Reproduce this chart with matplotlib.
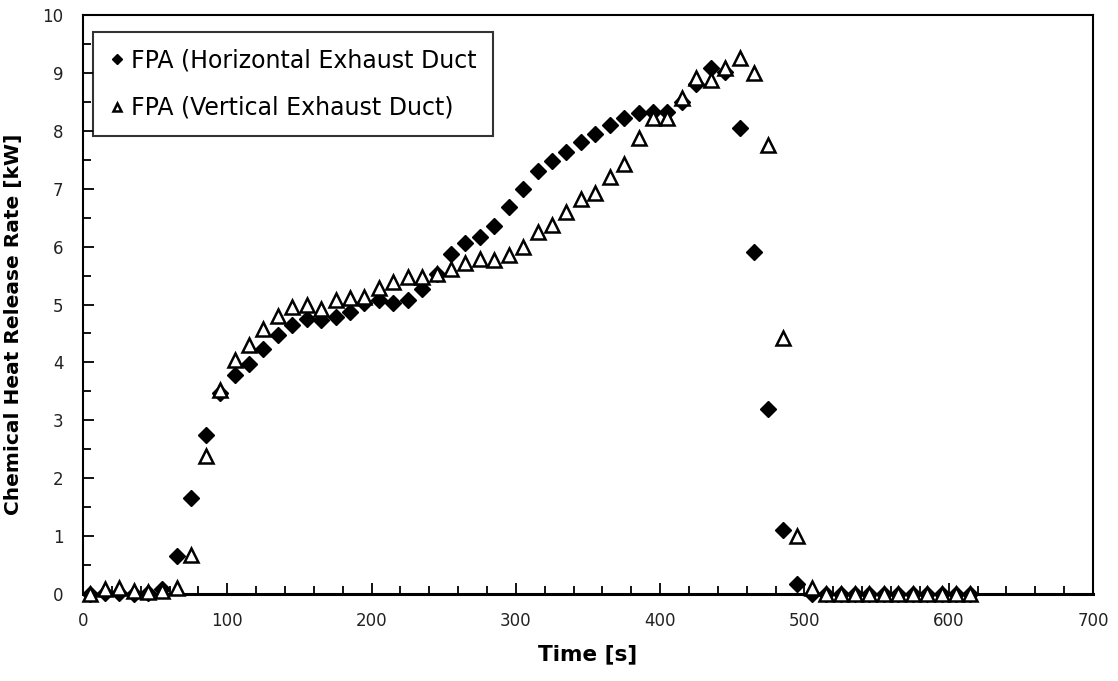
import numpy as np
import matplotlib.pyplot as plt
from matplotlib.ticker import MultipleLocator

# time stamps [s]
time_s = list(range(5, 625, 10))

# FPA, horizontal exhaust duct [kW]
hrr_horizontal = [0.0, 0.02, 0.02, 0.0, 0.02, 0.08, 0.65, 1.65, 2.75, 3.48,
                  3.78, 3.98, 4.23, 4.48, 4.65, 4.75, 4.73, 4.78, 4.87, 5.02,
                  5.07, 5.02, 5.08, 5.27, 5.52, 5.87, 6.07, 6.17, 6.35, 6.68,
                  7.0, 7.3, 7.47, 7.63, 7.8, 7.95, 8.1, 8.22, 8.3, 8.32,
                  8.32, 8.5, 8.8, 9.08, 9.02, 8.05, 5.9, 3.2, 1.1, 0.18,
                  0.0, 0.0, 0.0, 0.0, 0.0, 0.0, 0.0, 0.0, 0.0, 0.0,
                  0.0, 0.0]

# FPA, vertical exhaust duct [kW]
hrr_vertical = [0.0, 0.08, 0.1, 0.06, 0.04, 0.05, 0.1, 0.68, 2.38, 3.53,
                4.05, 4.3, 4.57, 4.8, 4.95, 5.0, 4.92, 5.07, 5.12, 5.13,
                5.28, 5.38, 5.48, 5.48, 5.52, 5.62, 5.72, 5.78, 5.77, 5.85,
                6.0, 6.25, 6.37, 6.6, 6.83, 6.92, 7.2, 7.42, 7.87, 8.22,
                8.22, 8.57, 8.92, 8.88, 9.08, 9.25, 9.0, 7.75, 4.43, 1.0,
                0.1, 0.0, 0.0, 0.0, 0.0, 0.0, 0.0, 0.0, 0.0, 0.0,
                0.0, 0.0]

labels = ["FPA (Horizontal Exhaust Duct", "FPA (Vertical Exhaust Duct)"]

plt.rcParams['font.family'] = ['DejaVu Sans']

fig = plt.figure(figsize=(11.18, 6.81), dpi=100)
ax = fig.add_axes([83 / 1118, 1 - 594 / 681, 1010 / 1118, 579 / 681])

ax.plot(time_s, hrr_horizontal, linestyle='none', marker='D', markersize=8,
        color='black', label=labels[0], clip_on=False, zorder=3)
ax.plot(time_s, hrr_vertical, linestyle='none', marker='^', markersize=10,
        markerfacecolor='white', markeredgecolor='black', markeredgewidth=1.8,
        label=labels[1], clip_on=False, zorder=3)

ax.set_xlim(0, 700)
ax.set_ylim(0, 10)
ax.xaxis.set_major_locator(MultipleLocator(100))
ax.xaxis.set_minor_locator(MultipleLocator(20))
ax.yaxis.set_major_locator(MultipleLocator(1))
ax.yaxis.set_minor_locator(MultipleLocator(0.5))
ax.tick_params(which='both', direction='in', width=1.3, labelsize=12,
               colors='black', labelcolor='#222222')
ax.tick_params(axis='x', which='both', pad=13)
ax.tick_params(axis='y', which='both', pad=14)
ax.tick_params(which='major', length=8)
ax.tick_params(which='minor', length=6)
for s in ax.spines.values():
    s.set_linewidth(1.5)
ax.spines['bottom'].set_linewidth(2.2)

ax.set_xlabel('Time [s]', fontsize=15.5, fontweight='bold', labelpad=10)
ax.set_ylabel('Chemical Heat Release Rate [kW]', fontsize=14.5,
              fontweight='bold', labelpad=14)
# label in the reference sits a bit below the axis centre
ax.yaxis.label.set_y(0.465)

leg = ax.legend(loc='upper left', bbox_to_anchor=(0.01, 0.971), fontsize=17,
                frameon=True, fancybox=False, edgecolor='black',
                markerscale=0.6, handlelength=0.6, handletextpad=0.3,
                labelspacing=1.0, borderpad=0.7, borderaxespad=0)
leg.get_frame().set_linewidth(1.5)

fig.savefig('out.png', dpi=100)
